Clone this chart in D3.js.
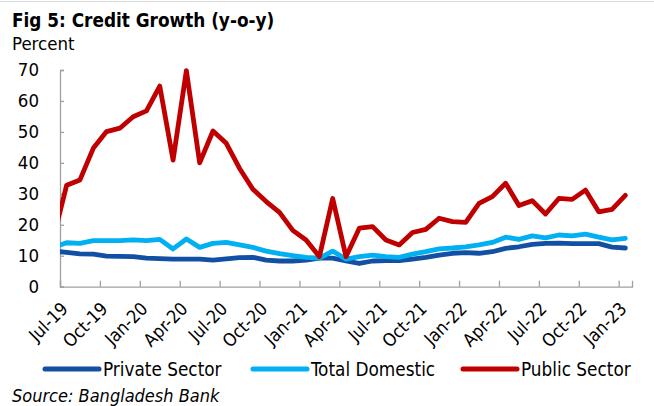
<!DOCTYPE html>
<html>
<head>
<meta charset="utf-8">
<script src="https://cdn.jsdelivr.net/npm/d3@7"></script>
<style>
  html, body { margin: 0; padding: 0; background: #fff; }
  svg { display: block; }
  text { font-family: "DejaVu Sans Condensed", "DejaVu Sans", sans-serif; fill: #000; }
</style>
</head>
<body>
<svg id="chart" width="654" height="406"></svg>
<script>
// Monthly observations, Jun-19 through Jan-23 (the Jun-19 value only feeds the clipped lead-in segment)
const months = [
  "Jun-19","Jul-19","Aug-19","Sep-19","Oct-19","Nov-19","Dec-19",
  "Jan-20","Feb-20","Mar-20","Apr-20","May-20","Jun-20","Jul-20","Aug-20","Sep-20","Oct-20","Nov-20","Dec-20",
  "Jan-21","Feb-21","Mar-21","Apr-21","May-21","Jun-21","Jul-21","Aug-21","Sep-21","Oct-21","Nov-21","Dec-21",
  "Jan-22","Feb-22","Mar-22","Apr-22","May-22","Jun-22","Jul-22","Aug-22","Sep-22","Oct-22","Nov-22","Dec-22",
  "Jan-23"
];

const privateSector = [
  11.5, 11.1, 10.6, 10.5, 9.9, 9.8, 9.7, 9.2, 9.1, 8.9, 8.9, 8.9, 8.6, 9.0, 9.4,
  9.5, 8.6, 8.3, 8.3, 8.6, 9.2, 9.2, 8.3, 7.5, 8.3, 8.4, 8.4, 8.9,
  9.5, 10.2, 10.8, 11.0, 10.8, 11.3, 12.4, 12.9, 13.7, 14.0, 14.1, 13.9, 13.9, 13.9, 12.8, 12.5
];

const totalDomestic = [
  12.8, 14.2, 14.0, 14.9, 14.9, 14.9, 15.1, 14.9, 15.3, 12.2, 15.4, 12.7, 14.0, 14.3, 13.5,
  12.7, 11.5, 10.7, 10.0, 9.5, 9.2, 11.5, 8.9, 9.7, 10.2, 9.7, 9.5, 10.5,
  11.3, 12.2, 12.5, 12.9, 13.5, 14.3, 16.0, 15.3, 16.4, 15.8, 16.7, 16.4, 17.0, 16.0, 15.1, 15.6
];

const publicSector = [
  15.6, 32.8, 34.5, 44.7, 50.1, 51.2, 54.9, 56.8, 64.8, 40.9, 69.8, 40.0, 50.3, 46.3, 38.2,
  31.5, 27.5, 24.0, 18.2, 15.1, 9.7, 28.5, 9.7, 18.9, 19.4, 15.1, 13.5, 17.5,
  18.5, 22.1, 21.0, 20.8, 26.9, 29.1, 33.4, 26.2, 27.8, 23.5, 28.5, 28.2, 31.2, 24.2, 25.0, 29.5
];

const tickLabels = [
  "Jul-19","Oct-19","Jan-20","Apr-20","Jul-20","Oct-20","Jan-21","Apr-21",
  "Jul-21","Oct-21","Jan-22","Apr-22","Jul-22","Oct-22","Jan-23"
];

const yTicks = [0, 10, 20, 30, 40, 50, 60, 70];

const seriesNames = ["Private Sector", "Total Domestic", "Public Sector"];
const seriesValues = [privateSector, totalDomestic, publicSector];
const seriesColors = ["#1150A3", "#00B0F0", "#C00000"];

const svg = d3.select("#chart");

// Plot geometry
const plot = { left: 60, right: 632, top: 70, bottom: 286.7 };

// Month position: Jul-19 = 0; each month sits in the middle of its slot
const first = months.indexOf("Jul-19");
const x = d3.scaleLinear()
  .domain([-0.5, months.length - first - 0.5])
  .range([plot.left, plot.right]);
const y = d3.scaleLinear().domain([0, 70]).range([plot.bottom, plot.top]);

// thin rule across the top
svg.append("line")
  .attr("x1", 0).attr("x2", 654).attr("y1", 1.5).attr("y2", 1.5)
  .attr("stroke", "#d9d9d9").attr("stroke-width", 1);

// Title and unit
svg.append("text").attr("x", 12).attr("y", 27)
  .style("font-size", "18.8px").style("font-weight", "bold")
  .text("Fig 5: Credit Growth (y-o-y)");
svg.append("text").attr("x", 12).attr("y", 50)
  .style("font-size", "18.5px")
  .text("Percent");

const axisColor = "#a0a0a0";

// Y axis: ticks point into the plot
const yAxis = d3.axisLeft(y).tickValues(yTicks).tickSize(-4).tickPadding(21).tickFormat(d3.format("d"));
const gy = svg.append("g").attr("transform", `translate(${plot.left},0)`).call(yAxis);
gy.select(".domain").attr("stroke", axisColor).attr("stroke-width", 1.3);
gy.selectAll(".tick line").attr("stroke", axisColor).attr("stroke-width", 1.3);
gy.selectAll(".tick text")
  .style("font-size", "18.5px").style("font-family", "'DejaVu Sans Condensed', 'DejaVu Sans', sans-serif")
  .attr("fill", "#000");

// X axis: quarterly ticks on slot boundaries, pointing up into the plot
const tickPos = tickLabels.map(l => months.indexOf(l) - first - 0.5);
const xAxis = d3.axisBottom(x).tickValues(tickPos).tickSize(-6).tickFormat("");
const gx = svg.append("g").attr("transform", `translate(0,${plot.bottom})`).call(xAxis);
gx.select(".domain").attr("stroke", axisColor).attr("stroke-width", 1.3);
gx.selectAll(".tick line").attr("stroke", axisColor).attr("stroke-width", 1.3);

// Rotated quarter labels
svg.append("g").selectAll("text")
  .data(tickLabels)
  .join("text")
  .attr("transform", d => `translate(${x(months.indexOf(d) - first - 0.5) + 9},310) rotate(-45)`)
  .attr("text-anchor", "end")
  .style("font-size", "18px")
  .text(d => d);

// Lines, clipped to the plot area
svg.append("clipPath").attr("id", "plotClip")
  .append("rect")
  .attr("x", plot.left).attr("y", 0)
  .attr("width", plot.right - plot.left).attr("height", plot.bottom + 10);

const line = d3.line()
  .x((d, i) => x(i - first))
  .y(d => y(d));

svg.append("g").attr("clip-path", "url(#plotClip)")
  .selectAll("path")
  .data(seriesValues)
  .join("path")
  .attr("d", d => line(d))
  .attr("fill", "none")
  .attr("stroke", (d, i) => seriesColors[i])
  .attr("stroke-width", 4.8)
  .attr("stroke-linejoin", "round")
  .attr("stroke-linecap", "round");

// Legend
const legendX = [45, 253, 463];
const lg = svg.append("g").selectAll("g")
  .data(seriesNames)
  .join("g")
  .attr("transform", (d, i) => `translate(${legendX[i]},369)`);
lg.append("line")
  .attr("x1", 0).attr("x2", 54).attr("y1", 0).attr("y2", 0)
  .attr("stroke", (d, i) => seriesColors[i])
  .attr("stroke-width", 5)
  .attr("stroke-linecap", "round");
lg.append("text")
  .attr("x", 58).attr("y", 6.5)
  .style("font-size", "18.8px")
  .text(d => d);

// Source note
svg.append("text").attr("x", 12).attr("y", 402)
  .style("font-size", "18px").style("font-style", "italic")
  .text("Source: Bangladesh Bank");
</script>
</body>
</html>
